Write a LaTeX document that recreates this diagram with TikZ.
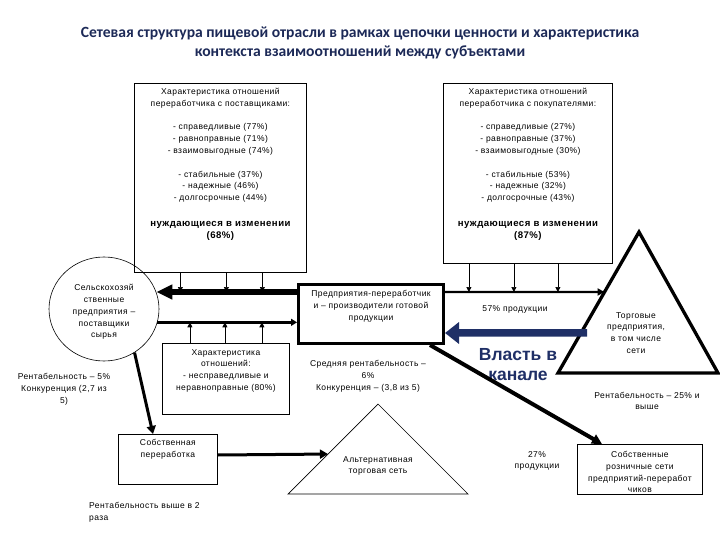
\documentclass[tikz,border=0pt]{standalone}
\usepackage{fontspec}
\setmainfont{Liberation Sans}
\newfontfamily\titlefont{Carlito}
\newfontfamily\boxfont[LetterSpace=5]{Liberation Sans}
\usetikzlibrary{arrows.meta,shapes.geometric,calc}
\definecolor{navy}{HTML}{1F2F66}
\definecolor{titlec}{HTML}{1C2957}
\tikzset{
  txt/.style={font=\boxfont\fontsize{8.5}{11.8}\selectfont, align=center, inner sep=0pt},
  bx/.style={draw, line width=0.8pt, inner sep=0pt, anchor=north west},
  tick/.style={line width=0.7pt, -{Triangle[length=5pt,width=5pt]}},
  mid/.style={line width=3pt, -{Triangle[length=8pt,width=9pt]}},
}
\begin{document}
\begin{tikzpicture}[x=1pt,y=-1pt]
\useasboundingbox (0,0) rectangle (720,540);

% title
\node[inner sep=0pt, align=center, text=titlec, font=\titlefont\bfseries\fontsize{15.6}{19.5}\selectfont] (title) at (360,43)
  {Сетевая структура пищевой отрасли в рамках цепочки ценности и характеристика\\контекста взаимоотношений между субъектами};

% top-left box
\node[bx, minimum width=172pt, minimum height=189pt] (tl) at (134,83) {};
\node[txt, anchor=north] (tlt) at (tl.north |- 0,88) {Характеристика отношений\\переработчика с поставщиками:\\[11.8pt]- справедливые (77\%)\\- равноправные (71\%)\\- взаимовыгодные (74\%)\\[11.8pt]- стабильные (37\%)\\- надежные (46\%)\\- долгосрочные (44\%)\\[14pt]{\bfseries\fontsize{9.6}{11.5}\selectfont нуждающиеся в изменении}\\{\bfseries\fontsize{9.6}{11.5}\selectfont (68\%)}};

% top-right box
\node[bx, minimum width=169pt, minimum height=180pt] (tr) at (443,83) {};
\node[txt, anchor=north] (trt) at (tr.north |- 0,88) {Характеристика отношений\\переработчика с покупателями:\\[11.8pt]- справедливые (27\%)\\- равноправные (37\%)\\- взаимовыгодные (30\%)\\[11.8pt]- стабильные (53\%)\\- надежные (32\%)\\- долгосрочные (43\%)\\[14pt]{\bfseries\fontsize{9.6}{11.5}\selectfont нуждающиеся в изменении}\\{\bfseries\fontsize{9.6}{11.5}\selectfont (87\%)}};

% farm ellipse
\node[draw, ellipse, line width=0.6pt, minimum width=110pt, minimum height=104pt, inner sep=0pt] (farm) at (104,309) {};
\node[txt] (farmt) at (104,312) {Сельскохозяй\\ственные\\предприятия –\\поставщики\\сырья};

% processor box
\node[draw, line width=3pt, minimum width=145pt, minimum height=59pt, inner sep=0pt, anchor=north west] (proc) at (297,283) {};
\node[txt, anchor=north] (proct) at (proc.north |- 0,290) {Предприятия-переработчик\\и – производители готовой\\продукции};

% lower characteristic box
\node[bx, minimum width=127pt, minimum height=71pt] (lc) at (162,343) {};
\node[txt, anchor=north] (lct) at (lc.north |- 0,349) {Характеристика\\отношений:\\- несправедливые и\\неравноправные (80\%)};

% own processing box
\node[bx, minimum width=99pt, minimum height=50pt] (own) at (118,434) {};
\node[txt, anchor=north] (ownt) at (own.north |- 0,439) {Собственная\\переработка};

% own retail box
\node[bx, minimum width=125pt, minimum height=50pt] (ret) at (577,444) {};
\node[txt, anchor=north] (rett) at (ret.north |- 0,451) {Собственные\\розничные сети\\предприятий-переработ\\чиков};

% trade triangle
\coordinate (tA) at (639,232);
\coordinate (tL) at (558,373);
\coordinate (tR) at (718,373);
\draw[line width=3.3pt, line join=miter] (tL) -- (tA) -- (tR) -- cycle;
\node[txt] (trade) at (636,333) {Торговые\\предприятия,\\в том числе\\сети};

% alternative triangle
\coordinate (aA) at (378,404);
\coordinate (aL) at (288,494);
\coordinate (aR) at (468,494);
\draw[line width=0.7pt] (aL) -- (aA) -- (aR) -- cycle;
\node[txt] (alt) at (378,466) {Альтернативная\\торговая сеть};

% free texts
\node[txt] (r5) at (64,389) {Рентабельность – 5\%\\Конкуренция (2,7 из\\5)};
\node[txt] (r6) at (368,376) {Средняя рентабельность –\\6\%\\Конкуренция – (3,8 из 5)};
\node[txt] (p57) at (515,309) {57\% продукции};
\node[txt] (p27) at (537,461) {27\%\\продукции};
\node[txt] (r25) at (647,401) {Рентабельность – 25\% и\\выше};
\node[txt, align=left, anchor=west] (r2) at (89,512) {Рентабельность выше в 2\\раза};
\node[inner sep=0pt, align=center, text=navy, font=\bfseries\fontsize{17.5}{20}\selectfont] (power) at (518,365) {Власть в\\канале};

% main connectors
\draw[line width=6pt, -{Triangle[length=16pt,width=14pt]}] (proc.west |- farm.18) -- (farm.18);
\draw[line width=3pt, -{Triangle[length=6pt,width=7pt]}] (farm.-14) -- (farm.-14 -| proc.west);
\draw[line width=2.2pt, -{Triangle[length=7pt,width=7pt]}] (proc.east |- farm.18) -- ($(tA)!0.4255!(tL)$);
\draw[navy, line width=7.5pt, -{Triangle[length=14pt,width=21pt]}] ([xshift=6pt]$(tA)!0.716!(tL)$) -- (proc.east |- 0,333);
\draw[line width=4pt, -{Triangle[length=10pt,width=10pt]}] ([xshift=-15pt]proc.south east) -- ([xshift=25pt]ret.north west);
\draw[mid] (farm.-55) -- ([xshift=35pt]own.north west);
\draw[mid] (own.east |- 0,455) -- ($(aA)!0.556!(aL)$);

% small ticks
\foreach \dx in {-40,6,42} \draw[tick] ([xshift=\dx pt]tl.south) -- ([xshift=\dx pt]tl.south |- farm.18);
\foreach \dx in {-36,-1,36} \draw[tick] ([xshift=\dx pt]lc.north) -- ([xshift=\dx pt]lc.north |- farm.-14);
\foreach \dx in {-59,-14,30} \draw[tick] ([xshift=\dx pt]tr.south) -- ([xshift=\dx pt]tr.south |- farm.18);
\end{tikzpicture}
\end{document}
